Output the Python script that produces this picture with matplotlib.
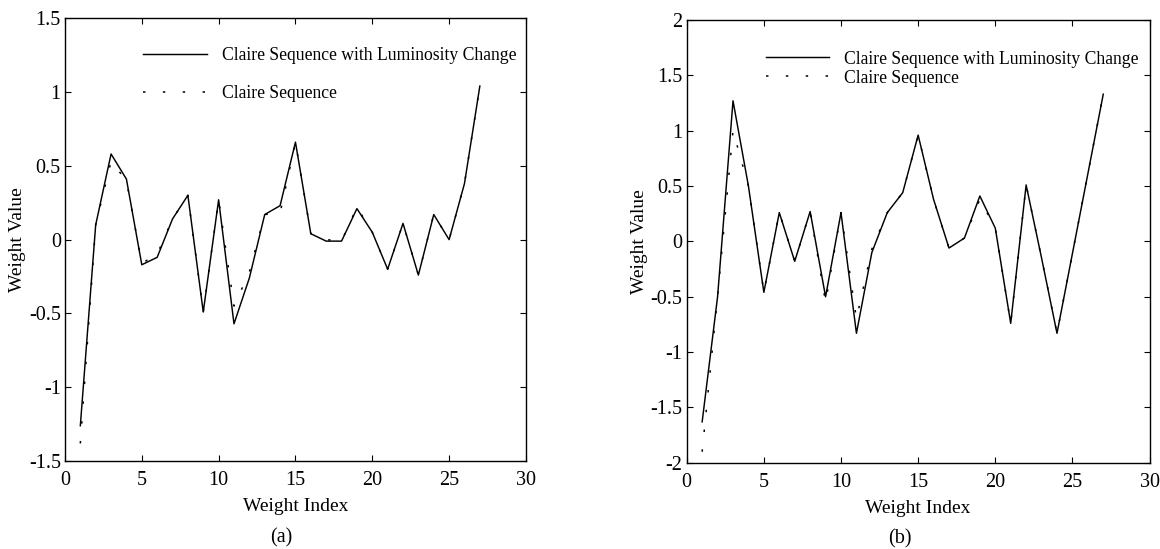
import matplotlib
matplotlib.use("Agg")
import matplotlib.pyplot as plt
from matplotlib.ticker import FuncFormatter, MultipleLocator

plt.rcParams['font.family'] = ['Liberation Serif', 'DejaVu Serif']
plt.rcParams['axes.unicode_minus'] = False
plt.rcParams['font.size'] = 14

weight_index = list(range(1, 28))

# Panel (a)
a_lum = [-1.26, 0.10, 0.58, 0.41, -0.17, -0.12, 0.14, 0.30, -0.49, 0.27,
         -0.57, -0.26, 0.17, 0.23, 0.66, 0.04, -0.01, -0.01, 0.21, 0.05,
         -0.20, 0.11, -0.24, 0.17, 0.00, 0.38, 1.04]
a_seq = [-1.38, 0.10, 0.53, 0.40, -0.16, -0.10, 0.14, 0.30, -0.49, 0.27,
         -0.45, -0.22, 0.17, 0.18, 0.66, 0.04, 0.00, -0.01, 0.22, 0.05,
         -0.20, 0.11, -0.24, 0.17, 0.00, 0.38, 1.04]

# Panel (b)
b_lum = [-1.63, -0.50, 1.27, 0.50, -0.46, 0.26, -0.18, 0.27, -0.50, 0.26,
         -0.83, -0.10, 0.26, 0.44, 0.96, 0.38, -0.06, 0.03, 0.41, 0.12,
         -0.74, 0.51, -0.15, -0.83, -0.11, 0.61, 1.33]
b_seq = [-1.90, -0.50, 1.00, 0.50, -0.46, 0.26, -0.18, 0.27, -0.55, 0.26,
         -0.70, -0.07, 0.26, 0.44, 0.96, 0.38, -0.06, 0.03, 0.38, 0.12,
         -0.74, 0.51, -0.15, -0.83, -0.11, 0.61, 1.33]

label_lum = "Claire Sequence with Luminosity Change"
label_seq = "Claire Sequence"

fig = plt.figure(figsize=(11.6, 5.49), dpi=100)
ax_a = fig.add_axes([0.056, 0.160, 0.3974, 0.807])
ax_b = fig.add_axes([0.592, 0.157, 0.399, 0.8066])

fmt = FuncFormatter(lambda v, p: "%g" % round(v, 3))
dot_style = (0, (1.6, 11.4))

def setup(ax, lum, seq, ylim, panel, xlab_off, ls_legend, bbox):
    ax.plot(weight_index, lum, color='black', lw=1.05, label=label_lum)
    ax.plot(weight_index, seq, color='black', lw=1.1, linestyle=dot_style, label=label_seq)
    ax.set_xlim(0, 30)
    ax.set_ylim(*ylim)
    ax.xaxis.set_major_locator(MultipleLocator(5))
    ax.yaxis.set_major_locator(MultipleLocator(0.5))
    ax.xaxis.set_major_formatter(fmt)
    ax.yaxis.set_major_formatter(fmt)
    ax.tick_params(direction='in', top=True, right=True, length=4, width=0.8,
                   labelsize=14.5, pad=3)
    ax.tick_params(axis='x', pad=7)
    for s in ax.spines.values():
        s.set_linewidth(1.0)
    ax.set_xlabel("Weight Index", fontsize=14, labelpad=6)
    ax.set_ylabel("Weight Value", fontsize=14, labelpad=2)
    ax.text(xlab_off, -0.172, panel, transform=ax.transAxes, ha='center', va='center',
            fontsize=14.5)
    ax.legend(loc='upper left', bbox_to_anchor=bbox, frameon=False,
              fontsize=12.7, handlelength=3.6, handletextpad=0.85,
              labelspacing=ls_legend, borderaxespad=0)

setup(ax_a, a_lum, a_seq, (-1.5, 1.5), "(a)", 0.47, 1.2, (0.155, 0.95))
setup(ax_b, b_lum, b_seq, (-2, 2), "(b)", 0.46, 0.12, (0.155, 0.947))

fig.savefig("out.png", dpi=100)
